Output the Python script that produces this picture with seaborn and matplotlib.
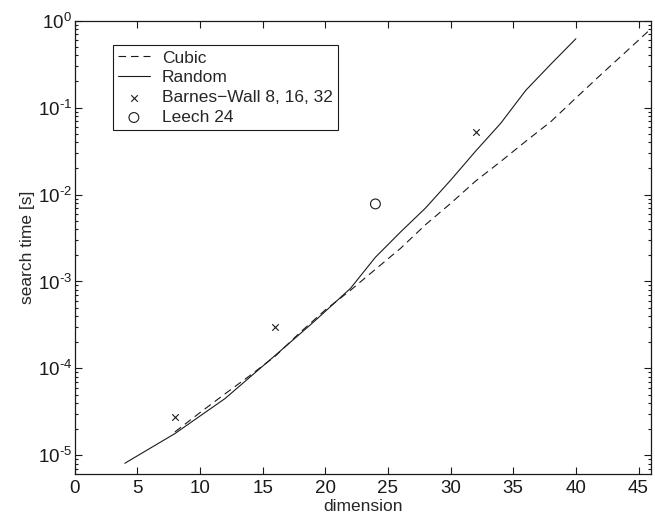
import numpy as np
import pandas as pd
import matplotlib
matplotlib.use('Agg')
import matplotlib.pyplot as plt
import seaborn as sns
from matplotlib.ticker import LogLocator, NullFormatter, FuncFormatter

# ---- data (search time in seconds) ----
random_dim = [4, 8, 12, 16, 19, 22, 24, 26, 28, 30, 32, 34, 36, 38, 40]
random_time = [8.1e-6, 1.78e-5, 4.5e-5, 1.41e-4, 3.35e-4, 8.3e-4, 1.9e-3,
               3.7e-3, 7.0e-3, 1.46e-2, 3.16e-2, 6.6e-2, 1.58e-1, 3.16e-1, 6.2e-1]

cubic_dim = [8, 10, 12, 14, 16, 18, 20, 22, 24, 26, 28, 30, 32, 34, 36, 38, 40, 42, 44, 46]
cubic_time = [1.86e-5, 3.1e-5, 5.1e-5, 8.3e-5, 1.38e-4, 2.6e-4, 4.7e-4, 7.9e-4,
              1.38e-3, 2.4e-3, 4.5e-3, 7.9e-3, 1.43e-2, 2.4e-2, 4.1e-2, 6.9e-2,
              1.29e-1, 2.4e-1, 4.4e-1, 8.1e-1]

bw_dim = [8, 16, 32]
bw_time = [2.75e-5, 3.0e-4, 5.3e-2]

leech_dim = [24]
leech_time = [7.8e-3]

x_ticks = [0, 5, 10, 15, 20, 25, 30, 35, 40, 45]

random_df = pd.DataFrame({'dimension': random_dim, 'time': random_time})
cubic_df = pd.DataFrame({'dimension': cubic_dim, 'time': cubic_time})
bw_df = pd.DataFrame({'dimension': bw_dim, 'time': bw_time})
leech_df = pd.DataFrame({'dimension': leech_dim, 'time': leech_time})

sns.set_theme(style='ticks')
plt.rcParams['font.family'] = ['Liberation Sans', 'DejaVu Sans']
plt.rcParams['mathtext.fontset'] = 'custom'
plt.rcParams['mathtext.rm'] = 'Liberation Sans'
plt.rcParams['lines.scale_dashes'] = False

fig = plt.figure(figsize=(6.55, 5.16), dpi=100)
ax = fig.add_axes([0.114, 0.0814, 0.880, 0.8785])

sns.lineplot(data=cubic_df, x='dimension', y='time', ax=ax, color='k',
             linestyle=(0, (5.5, 3.5)), linewidth=0.8, label='Cubic')
sns.lineplot(data=random_df, x='dimension', y='time', ax=ax, color='k',
             linewidth=0.8, label='Random')
sns.scatterplot(data=bw_df, x='dimension', y='time', ax=ax, marker='x',
                color='k', s=22, linewidth=0.8, label='Barnes\u2212Wall 8, 16, 32')
sns.scatterplot(data=leech_df, x='dimension', y='time', ax=ax, marker='o',
                facecolor='none', edgecolor='k', s=50, linewidth=0.8,
                label='Leech 24')

ax.set_yscale('log')
ax.set_xlim(0, 46)
ax.set_ylim(6.1e-6, 1)
ax.set_xticks(x_ticks)
ax.yaxis.set_major_locator(LogLocator(base=10, numticks=10))
ax.yaxis.set_minor_locator(LogLocator(base=10, subs=np.arange(2, 10), numticks=20))
ax.yaxis.set_minor_formatter(NullFormatter())


def pow_label(v, pos):
    e = int(round(np.log10(v)))
    s = str(e).replace('-', '\u2010')
    return r'$\mathdefault{10^{' + s + '}}$'


ax.yaxis.set_major_formatter(FuncFormatter(pow_label))

ax.tick_params(which='both', direction='in', top=True, right=True,
               labelsize=13.5, colors='k', width=0.8)
ax.tick_params(which='major', length=5)
ax.tick_params(axis='x', which='major', pad=4)
ax.tick_params(axis='y', which='major', pad=2)
ax.tick_params(which='minor', length=2.5)
for s in ax.spines.values():
    s.set_linewidth(0.9)
    s.set_color('k')

ax.set_xlabel('dimension', fontsize=12.5, labelpad=2)
ax.set_ylabel('search time [s]', fontsize=12.5)
ax.yaxis.set_label_coords(-0.068, 0.5)

leg = ax.legend(loc='upper left', bbox_to_anchor=(0.0666, 0.946),
                borderaxespad=0, fontsize=12.5, frameon=True, fancybox=False,
                framealpha=1, edgecolor='k', handlelength=1.8,
                handletextpad=0.7, labelspacing=0.27, scatterpoints=1,
                borderpad=0.3)
leg.get_frame().set_linewidth(0.8)

fig.savefig('out.png', dpi=100)
